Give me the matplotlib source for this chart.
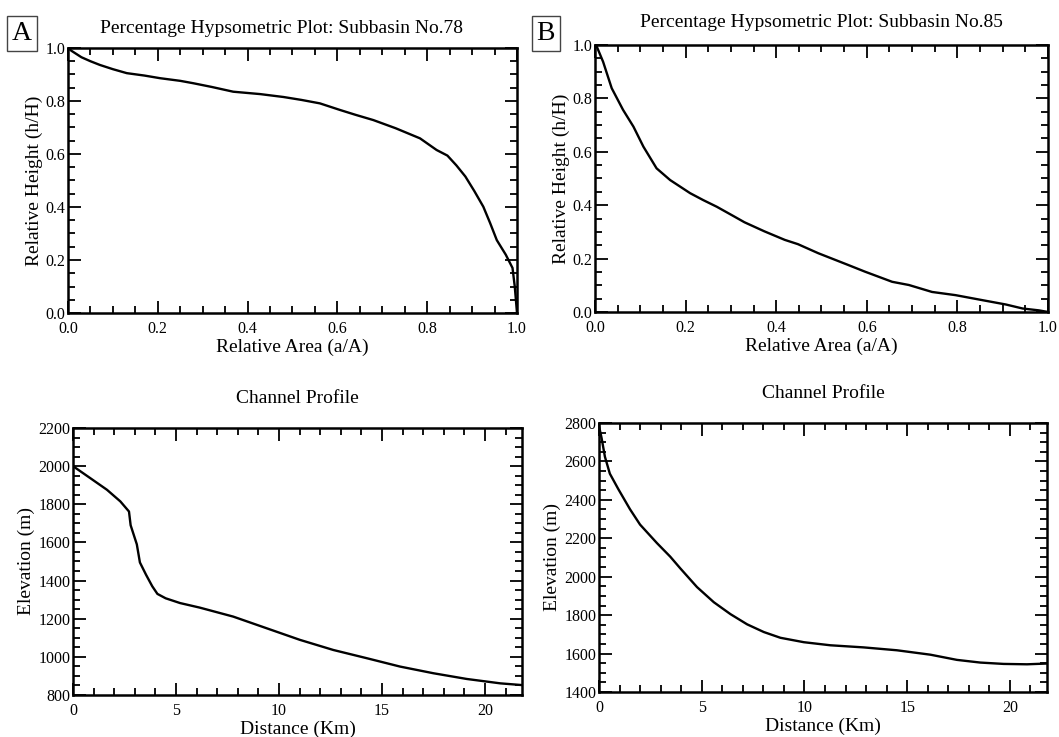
import matplotlib.pyplot as plt
from matplotlib.ticker import MultipleLocator

plt.rcParams['font.family'] = ['Liberation Serif', 'DejaVu Serif']

# Hypsometric curve, subbasin 78
area_78 = [0.0, 0.008, 0.03, 0.05, 0.071, 0.10, 0.131, 0.17, 0.205, 0.25, 0.279,
           0.32, 0.368, 0.428, 0.48, 0.52, 0.561, 0.606, 0.64, 0.68, 0.73, 0.784,
           0.821, 0.845, 0.865, 0.885, 0.905, 0.925, 0.94, 0.955, 0.975, 0.99,
           0.995, 1.0]
height_78 = [1.0, 0.989, 0.965, 0.95, 0.936, 0.92, 0.905, 0.896, 0.886, 0.876,
             0.867, 0.853, 0.835, 0.826, 0.815, 0.804, 0.791, 0.766, 0.748, 0.728,
             0.697, 0.659, 0.615, 0.594, 0.557, 0.515, 0.46, 0.401, 0.34, 0.275,
             0.22, 0.17, 0.1, 0.0]

# Hypsometric curve, subbasin 85
area_85 = [0.0, 0.004, 0.018, 0.037, 0.062, 0.085, 0.107, 0.136, 0.166, 0.21,
           0.239, 0.269, 0.307, 0.33, 0.374, 0.419, 0.448, 0.493, 0.559, 0.596,
           0.656, 0.693, 0.744, 0.796, 0.856, 0.907, 0.944, 0.98, 1.0]
height_85 = [1.0, 0.994, 0.937, 0.838, 0.757, 0.694, 0.619, 0.538, 0.494, 0.445,
             0.419, 0.394, 0.358, 0.336, 0.302, 0.27, 0.254, 0.22, 0.176, 0.151,
             0.113, 0.101, 0.075, 0.063, 0.044, 0.028, 0.013, 0.006, 0.0]

# Channel profile, subbasin 78
dist_78 = [0, 0.8, 1.65, 2.3, 2.72, 2.8, 2.95, 3.1, 3.25, 3.55, 3.85, 4.1, 4.5,
           5.2, 6.16, 7.78, 9.4, 11.02, 12.64, 14.26, 15.88, 17.5, 19.12, 20.75,
           21.8]
elev_78 = [2000, 1940, 1876, 1815, 1762, 1690, 1640, 1590, 1495, 1430, 1370, 1330,
           1307, 1282, 1258, 1211, 1150, 1089, 1036, 993, 949, 914, 884, 861, 852]

# Channel profile, subbasin 85
dist_85 = [0, 0.13, 0.29, 0.53, 0.94, 1.51, 2.0, 2.82, 3.47, 3.96, 4.77, 5.59,
           6.4, 7.21, 8.02, 8.83, 9.97, 11.26, 12.88, 14.5, 16.13, 17.42, 18.56,
           19.69, 20.83, 21.8]
elev_85 = [2785, 2720, 2624, 2536, 2456, 2351, 2271, 2175, 2104, 2043, 1946, 1867,
           1805, 1752, 1712, 1682, 1659, 1643, 1632, 1617, 1594, 1567, 1553,
           1546, 1544, 1548]

fig = plt.figure(figsize=(10.59, 7.37), dpi=100)
axA = fig.add_axes([0.0642, 0.5753, 0.424, 0.3596])
axB = fig.add_axes([0.5618, 0.5767, 0.4278, 0.3623])
axC = fig.add_axes([0.0689, 0.057, 0.424, 0.3623])
axD = fig.add_axes([0.5656, 0.0611, 0.423, 0.365])


def style(ax, major_x, minor_x, major_y, minor_y):
    ax.xaxis.set_major_locator(MultipleLocator(major_x))
    ax.xaxis.set_minor_locator(MultipleLocator(minor_x))
    ax.yaxis.set_major_locator(MultipleLocator(major_y))
    ax.yaxis.set_minor_locator(MultipleLocator(minor_y))
    ax.tick_params(which='both', direction='in', top=True, right=True, width=1.3)
    ax.tick_params(which='major', length=9, labelsize=11.5)
    ax.tick_params(which='minor', length=5)
    ax.tick_params(axis='y', pad=2)
    ax.tick_params(axis='x', pad=6)
    for s in ax.spines.values():
        s.set_linewidth(1.8)


for ax, x, y, n in [(axA, area_78, height_78, 78), (axB, area_85, height_85, 85)]:
    ax.plot(x, y, color='black', lw=1.7)
    ax.set_xlim(0, 1)
    ax.set_ylim(0, 1)
    style(ax, 0.2, 0.05, 0.2, 0.05)
    ax.xaxis.set_major_formatter(plt.FormatStrFormatter('%.1f'))
    ax.yaxis.set_major_formatter(plt.FormatStrFormatter('%.1f'))
    ax.set_ylabel('Relative Height (h/H)', fontsize=14, labelpad=2)
    ax.set_xlabel('Relative Area (a/A)', fontsize=14, labelpad=1)

axA.set_title('Percentage Hypsometric Plot: Subbasin No.78', fontsize=14, pad=11,
              x=0.475)
axB.set_title('Percentage Hypsometric Plot: Subbasin No.85', fontsize=14, pad=13,
              x=0.5)

axC.plot(dist_78, elev_78, color='black', lw=1.7)
axC.set_xlim(0, 21.8)
axC.set_ylim(800, 2200)
style(axC, 5, 1, 200, 50)

axD.plot(dist_85, elev_85, color='black', lw=1.7)
axD.set_xlim(0, 21.8)
axD.set_ylim(1400, 2800)
style(axD, 5, 1, 200, 50)

for ax in (axC, axD):
    ax.set_title('Channel Profile', fontsize=14, pad=18)
    ax.set_xlabel('Distance (Km)', fontsize=14, labelpad=1)
    ax.set_ylabel('Elevation (m)', fontsize=14, labelpad=2)

for lab, xpos in [('A', 0.0205), ('B', 0.5155)]:
    fig.text(xpos, 0.955, lab, fontsize=20, ha='center', va='center',
             bbox=dict(boxstyle='square,pad=0.18', fc='white', ec='#444444', lw=1))

fig.savefig('out.png', dpi=100)
